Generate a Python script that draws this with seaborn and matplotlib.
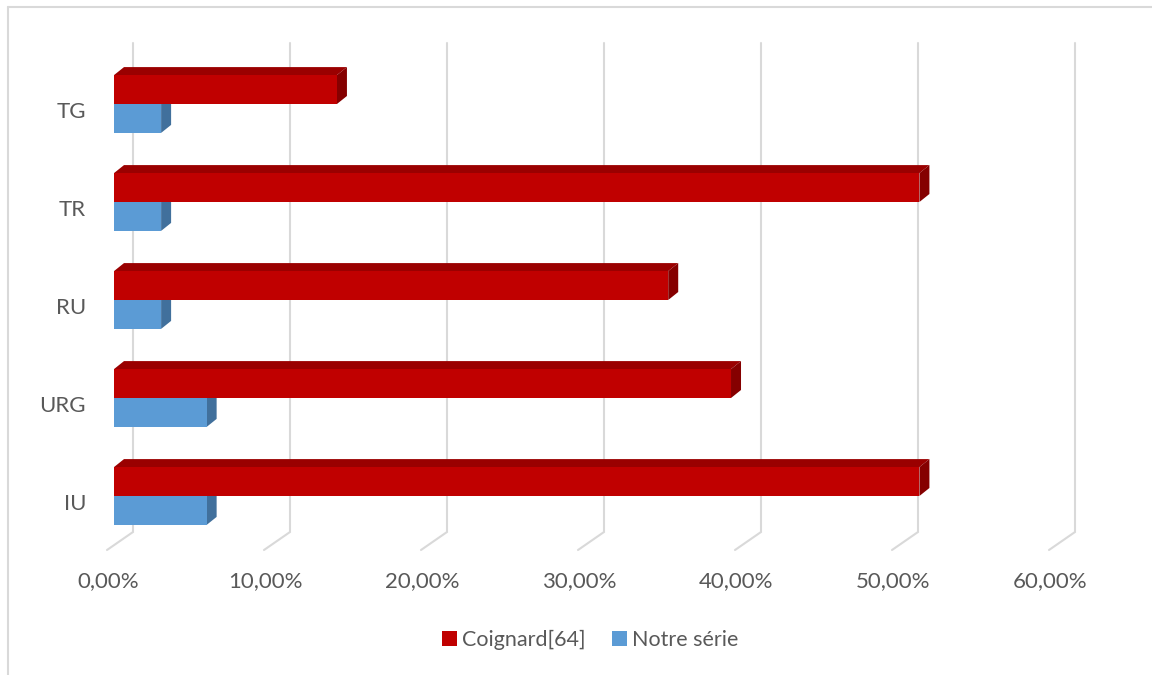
import numpy as np
import pandas as pd
import matplotlib
matplotlib.use("Agg")
import matplotlib.pyplot as plt
from matplotlib.patches import Polygon, Patch
from matplotlib.lines import Line2D
import seaborn as sns

# --- data -------------------------------------------------------------
categories = ["TG", "TR", "RU", "URG", "IU"]
series_names = ["Coignard[64]", "Notre série"]
coignard = [14.2, 51.3, 35.3, 39.3, 51.3]
notre_serie = [3.0, 3.0, 3.0, 5.9, 5.9]
x_ticks = [0, 10, 20, 30, 40, 50, 60]

df = pd.DataFrame({
    "cat": categories * 2,
    "serie": [series_names[0]] * len(categories) + [series_names[1]] * len(categories),
    "val": coignard + notre_serie,
})

# --- style ------------------------------------------------------------
sns.set_theme(style="white")
plt.rcParams["font.family"] = ["Lato", "DejaVu Sans"]
TEXT = "#595959"
GRID = "#d9d9d9"
FS = 16
FRONT = {series_names[0]: "#c00000", series_names[1]: "#5b9bd5"}
TOP = {series_names[0]: "#9a0000", series_names[1]: "#4a84bb"}
SIDE = {series_names[0]: "#850000", series_names[1]: "#41709c"}

W, H, DPI = 1152, 675, 100
fig = plt.figure(figsize=(W / DPI, H / DPI), dpi=DPI)
ax = fig.add_axes([114 / W, 130 / H, 942 / W, 490 / H])

sns.barplot(data=df, y="cat", x="val", hue="serie", order=categories,
            hue_order=series_names, palette=[FRONT[s] for s in series_names],
            orient="h", width=0.59, dodge=True, ax=ax, legend=False,
            saturation=1, linewidth=0)
ax.set_xlim(0, 60)
ax.set_ylim(len(categories) - 0.5, -0.5)
ax.set_axis_off()

# depth of the 3D effect, in pixels
DX, DY = 10, 8
FLOOR_BACK, FLOOR_FRONT = 19, -7

to_disp = ax.transData.transform

# --- gridlines on the back wall and floor -------------------------------
top_y = H - 43
floor_back_y = H - 532
floor_front_y = H - 550
for t in x_ticks:
    fx, _ = to_disp((t, 0))
    xs = [fx + FLOOR_BACK, fx + FLOOR_BACK, fx + FLOOR_FRONT]
    ys = [top_y, floor_back_y, floor_front_y]
    fig.add_artist(Line2D(xs, ys, transform=None, color=GRID, lw=1.5,
                          solid_joinstyle="miter", zorder=0.5))
    fig.text(fx + FLOOR_FRONT + 1, H - 581, f"{t:.2f}".replace(".", ",") + "%",
             transform=None, ha="center", va="center", fontsize=FS, color=TEXT)

# --- 3D faces for every bar ---------------------------------------------
n = len(categories)
bars = ax.patches[: 2 * n]
for idx, bar in enumerate(bars):
    serie = series_names[idx // n]
    x0, y0 = bar.get_x(), bar.get_y()
    x1, y1 = x0 + bar.get_width(), y0 + bar.get_height()
    (ax0, ay_bot), (ax1, ay_top) = to_disp([(x0, y1), (x1, y0)])
    base_z = 3 if serie == series_names[0] else 2
    bar.set_zorder(base_z + 0.2)
    top = Polygon([(ax0, ay_top), (ax1, ay_top), (ax1 + DX, ay_top + DY),
                   (ax0 + DX, ay_top + DY)], closed=True, transform=None,
                  facecolor=TOP[serie], edgecolor="none", zorder=base_z)
    side = Polygon([(ax1, ay_bot), (ax1 + DX, ay_bot + DY), (ax1 + DX, ay_top + DY),
                    (ax1, ay_top)], closed=True, transform=None,
                   facecolor=SIDE[serie], edgecolor="none", zorder=base_z + 0.1)
    fig.add_artist(top)
    fig.add_artist(side)
    bar.remove()
    bar.set_transform(ax.transData)
    fig.add_artist(bar)

# --- category labels ----------------------------------------------------
for i, c in enumerate(categories):
    _, cy = to_disp((0, i))
    fig.text(86, cy - 8, c, transform=None, ha="right", va="center",
             fontsize=FS, color=TEXT)

# --- legend -------------------------------------------------------------
handles = [Patch(facecolor=FRONT[s], edgecolor="none", label=s) for s in series_names]
fig.legend(handles=handles, loc="center", bbox_to_anchor=(590 / W, 1 - 640 / H),
           ncol=2, frameon=False, fontsize=15.5, handlelength=0.7, handleheight=0.7,
           handletextpad=0.25, columnspacing=1.2, labelcolor=TEXT)

# --- chart area border (top and left edges) ------------------------------
fig.add_artist(Line2D([8, W + 5], [H - 7, H - 7], transform=None, color=GRID, lw=1.5))
fig.add_artist(Line2D([8, 8], [H - 7, -5], transform=None, color=GRID, lw=1.5))

fig.savefig("out.png", dpi=DPI, facecolor="white")
